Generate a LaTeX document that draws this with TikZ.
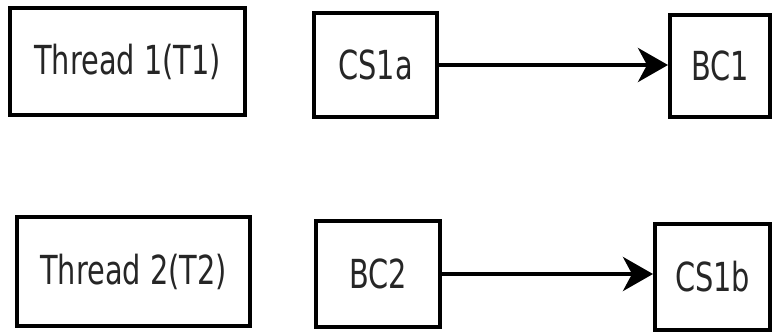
\documentclass[tikz,border=0pt]{standalone}
\usepackage{fontspec}
\setmainfont{DejaVu Sans}[FakeStretch=0.72]
\usetikzlibrary{arrows.meta}
\begin{document}
\begin{tikzpicture}[x=1pt,y=-1pt,
  box/.style={draw=black, line width=4pt, fill=white, inner sep=0pt,
    text=black!85, font=\fontsize{40}{46}\selectfont},
  conn/.style={line width=4pt, -{Stealth[length=30pt,width=34pt,inset=9pt]}}]
\useasboundingbox (0,0) rectangle (777,332);
\node[box, minimum width=235pt, minimum height=107pt] (T1) at (127.5,61.5) {Thread 1(T1)};
\node[box, minimum width=123pt, minimum height=104pt] (CS1a) at (375.5,65) {CS1a};
\node[box, minimum width=100pt, minimum height=102pt] (BC1) at (720,66) {BC1};
\node[box, minimum width=233pt, minimum height=109pt] (T2) at (133.5,271.5) {Thread 2(T2)};
\node[box, minimum width=124pt, minimum height=106pt] (BC2) at (378,274) {BC2};
\node[box, minimum width=115pt, minimum height=106pt] (CS1b) at (712.5,277) {CS1b};
\draw[conn] (CS1a.east) -- (CS1a.east -| BC1.west);
\draw[conn] (BC2.east) -- (BC2.east -| CS1b.west);
\end{tikzpicture}
\end{document}
